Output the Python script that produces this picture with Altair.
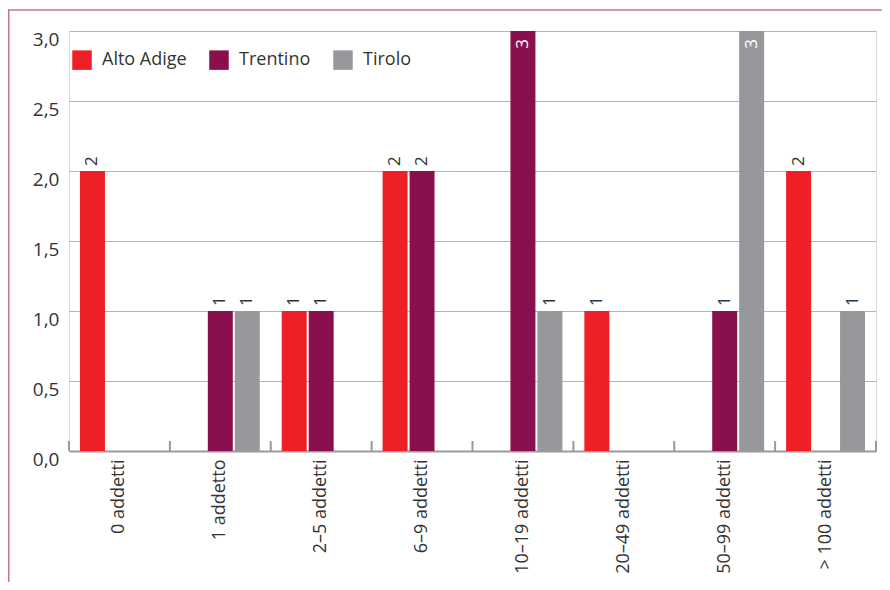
import altair as alt
import pandas as pd

categories = ["0 addetti", "1 addetto", "2–5 addetti", "6–9 addetti",
              "10–19 addetti", "20–49 addetti", "50–99 addetti", "> 100 addetti"]
series = ["Alto Adige", "Trentino", "Tirolo"]
alto_adige = [2, 0, 1, 2, 0, 1, 0, 2]
trentino = [0, 1, 1, 2, 3, 0, 1, 0]
tirolo = [0, 1, 0, 0, 1, 0, 3, 1]
colors = ["#ee1f26", "#8a0f4d", "#97989b"]
y_ticks = [0, 0.5, 1, 1.5, 2, 2.5, 3]

rows = []
for i, c in enumerate(categories):
    for s, vals in zip(series, [alto_adige, trentino, tirolo]):
        rows.append({"cat": c, "serie": s, "val": vals[i]})
df = pd.DataFrame(rows)
cat_df = pd.DataFrame({"cat": categories})

W, H = 807, 420
PL, PT, PR, PB = 61, 23, 6, 131
FONT = "Open Sans"
TXT = "#333333"
BORDER = "#c2739c"

x_enc = alt.X("cat:N", sort=categories,
              scale=alt.Scale(paddingInner=0, paddingOuter=0),
              axis=alt.Axis(title=None, labelAngle=270, labelAlign="right",
                            labelBaseline="middle", labelPadding=8,
                            labelFontSize=18, labelColor=TXT, labelFont=FONT,
                            ticks=False, domainColor="#9a9a9a", domainWidth=2))
xoff = alt.XOffset("serie:N", sort=series,
                   scale=alt.Scale(domain=series, paddingInner=0.074, paddingOuter=0.407))
y_enc = alt.Y("val:Q", scale=alt.Scale(domain=[0, 3], nice=False),
              axis=alt.Axis(title=None, values=y_ticks,
                            labelExpr="replace(format(datum.value, '.1f'), '.', ',')",
                            domain=False, ticks=False, gridColor="#b3b3b3", gridWidth=1,
                            labelFontSize=19, labelPadding=10, labelBaseline="top",
                            labelOffset=-1, labelColor=TXT, labelFont=FONT))

base = alt.Chart(df)

bars = base.mark_bar().encode(
    x=x_enc, xOffset=xoff, y=y_enc,
    color=alt.Color("serie:N", sort=series,
                    scale=alt.Scale(domain=series, range=colors),
                    legend=alt.Legend(title=None, orient="none", legendX=3, legendY=19,
                                      direction="horizontal", symbolType="square",
                                      symbolSize=380, symbolStrokeWidth=0,
                                      labelFontSize=18, labelFont=FONT, labelColor=TXT,
                                      columnPadding=22, labelOffset=10, padding=0))
)

above = base.transform_filter("datum.val > 0 && datum.val < 3").mark_text(
    angle=270, align="left", baseline="middle", dx=5, fontSize=17, font=FONT, color=TXT
).encode(x=alt.X("cat:N", sort=categories), xOffset=alt.XOffset("serie:N", sort=series),
         y="val:Q", text="val:Q")

inside = base.transform_filter("datum.val >= 3").mark_text(
    angle=270, align="right", baseline="middle", dx=-8, fontSize=17, font=FONT, color="white"
).encode(x=alt.X("cat:N", sort=categories), xOffset=alt.XOffset("serie:N", sort=series),
         y="val:Q", text="val:Q")

ticks = alt.Chart(cat_df).mark_rule(color="#9a9a9a", strokeWidth=2).encode(
    x=alt.X("cat:N", sort=categories, bandPosition=0),
    y=alt.value(H), y2=alt.value(H - 10))

end_tick = alt.Chart(pd.DataFrame({"a": [0]})).mark_rule(color="#9a9a9a", strokeWidth=2).encode(
    x=alt.value(W), y=alt.value(H), y2=alt.value(H - 10))

top_border = alt.Chart(pd.DataFrame({"a": [0]})).mark_rule(color=BORDER, strokeWidth=1.5).encode(
    x=alt.value(-PL), x2=alt.value(W + PR), y=alt.value(-21))
left_border = alt.Chart(pd.DataFrame({"a": [0]})).mark_rule(color=BORDER, strokeWidth=1.5).encode(
    x=alt.value(-PL + 0.75), y=alt.value(-21), y2=alt.value(H + PB))

chart = alt.layer(bars, above, inside, ticks, end_tick, top_border, left_border).properties(
    width=W, height=H,
    autosize=alt.AutoSizeParams(type="none"),
    padding={"left": PL, "top": PT, "right": PR, "bottom": PB},
).configure_view(stroke=None).configure(font=FONT)

chart.save("out.html", embed_options={"renderer": "svg", "actions": False})
